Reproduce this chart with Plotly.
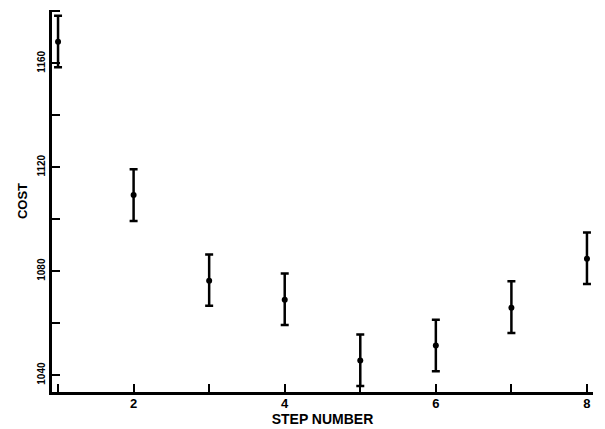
import plotly.graph_objects as go

steps = [1, 2, 3, 4, 5, 6, 7, 8]
cost = [1168.3, 1109.3, 1076.3, 1069.0, 1045.6, 1051.4, 1065.9, 1084.8]
err_plus = [10.0, 9.9, 10.1, 10.1, 10.0, 9.9, 10.2, 10.1]
err_minus = [9.8, 10.0, 9.6, 9.7, 9.8, 9.9, 9.7, 9.7]

x_tickvals = [1, 2, 3, 4, 5, 6, 7, 8]
x_ticktext = ["", "2", "", "4", "", "6", "", "8"]
y_tickvals = [1040, 1060, 1080, 1100, 1120, 1140, 1160, 1180]
y_ticktext = ["1040", "", "1080", "", "1120", "", "1160", ""]

font_family = "Liberation Sans, Arial, sans-serif"

fig = go.Figure()
fig.add_trace(go.Scatter(
    x=steps, y=cost, mode="markers",
    marker=dict(color="black", size=6),
    error_y=dict(type="data", symmetric=False, array=err_plus, arrayminus=err_minus,
                 color="black", thickness=2.5, width=4),
    showlegend=False,
))

fig.update_layout(
    width=605, height=429,
    margin=dict(l=52, r=12, t=10, b=37),
    paper_bgcolor="white", plot_bgcolor="white",
    font=dict(family=font_family, color="black", size=12, weight="bold"),
)
fig.update_xaxes(
    range=[0.92, 8.08], tickvals=x_tickvals, ticktext=x_ticktext,
    showline=True, linecolor="black", linewidth=3, mirror=False,
    ticks="inside", ticklen=8, tickwidth=2, tickcolor="black",
    showgrid=False, zeroline=False, automargin=False, ticklabelstandoff=-3,
    tickfont=dict(size=13, family=font_family, weight="bold"),
    title=dict(text="STEP NUMBER", font=dict(size=14, family=font_family, weight="bold"), standoff=4),
)
fig.update_yaxes(
    range=[1033.5, 1180.5], tickvals=y_tickvals, ticktext=y_ticktext,
    showline=True, linecolor="black", linewidth=3, mirror=False,
    ticks="inside", ticklen=8, tickwidth=2, tickcolor="black",
    showgrid=False, zeroline=False, tickangle=-90, automargin=False,
    tickfont=dict(size=10, family=font_family, weight="bold"),
    title=dict(text="COST", font=dict(size=13, family=font_family, weight="bold"), standoff=6),
)

fig.write_html("out.html")
